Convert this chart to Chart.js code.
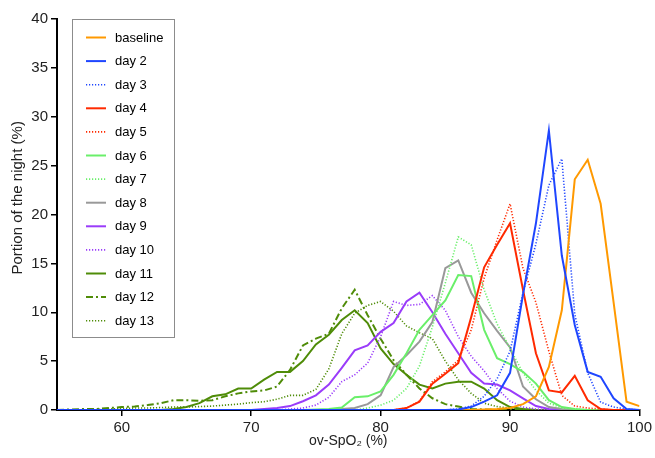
<!DOCTYPE html>
<html>
<head>
<meta charset="utf-8">
<script src="https://cdn.jsdelivr.net/npm/chart.js@4/dist/chart.umd.min.js"></script>
<style>
  html, body { margin: 0; padding: 0; background: #fff; }
  #wrap { width: 655px; height: 458px; }
</style>
</head>
<body>
<div id="wrap"><canvas id="spo2Chart" width="655" height="458"></canvas></div>
<script>
// ov-SpO2 bins (%)
const spo2Bins = [55,56,57,58,59,60,61,62,63,64,65,66,67,68,69,70,71,72,73,74,75,76,77,78,79,80,81,82,83,84,85,86,87,88,89,90,91,92,93,94,95,96,97,98,99,100];
const xTicks = [60, 70, 80, 90, 100];

// portion of the night (%) per bin, 55 -> 100
const baseline = [0,0,0,0,0,0,0,0,0,0, 0,0,0,0,0,0,0,0,0,0, 0,0,0,0,0,0,0,0,0,0, 0,0,0,0.05,0.1,0.2,0.6,1.4,4.4,10.2, 23.6,25.6,21.1,11.0,0.85,0.4];
const day2 = [0,0,0,0,0,0,0,0,0,0, 0,0,0,0,0,0,0,0,0,0, 0,0,0,0,0,0,0,0,0,0, 0,0.05,0.3,0.85,1.5,3.8,11.8,19.1,28.6,15.8, 8.7,3.9,3.4,1.2,0.1,0];
const day3 = [0,0,0,0,0,0,0,0,0,0, 0,0,0,0,0,0,0,0,0,0, 0,0,0,0,0,0,0,0,0,0, 0,0.1,0.4,1.4,3.2,6.0,12.0,17.0,23.0,25.7, 9.8,3.8,0.8,0.3,0.1,0];
const day4 = [0,0,0,0,0,0,0,0,0,0, 0,0,0,0,0,0,0,0,0,0, 0,0,0,0,0,0,0,0.2,0.85,2.7, 3.7,4.8,9.5,14.6,16.9,19.1,12.3,5.8,2.0,1.8, 3.5,1.0,0.1,0,0,0];
const day5 = [0,0,0,0,0,0,0,0,0,0, 0,0,0,0,0,0,0,0,0,0, 0,0,0,0,0,0,0,0.2,0.9,2.9, 3.9,5.1,8.2,13.5,17.4,21.1,14.5,11.0,6.0,1.5, 0.4,0.2,0.1,0,0,0];
const day6 = [0,0,0,0,0,0,0,0,0,0, 0,0,0,0,0,0,0,0,0,0, 0.05,0.1,0.25,1.3,1.4,1.9,3.6,5.8,8.2,9.7, 11.2,13.8,13.7,8.2,5.3,4.7,3.9,2.7,1.0,0.3, 0.1,0,0,0,0,0];
const day7 = [0,0,0,0,0,0,0,0,0,0, 0,0,0,0,0,0,0,0,0,0, 0,0,0,0,0.2,0.5,1.0,2.2,4.5,8.5, 13.0,17.7,16.9,12.3,8.8,6.3,3.8,2.0,0.7,0.2, 0.1,0,0,0,0,0];
const day8 = [0,0,0,0,0,0,0,0,0,0, 0,0,0,0,0,0,0,0,0,0, 0,0,0.1,0.2,0.6,1.5,4.4,5.6,7.0,9.0, 14.5,15.3,12.0,9.9,8.1,6.4,2.4,1.1,0.3,0.1, 0,0,0,0,0,0];
const day9 = [0,0,0,0,0,0,0,0,0,0, 0,0,0,0,0,0,0.1,0.2,0.4,0.9, 1.5,2.6,4.3,6.1,6.6,8.0,8.9,11.1,12.0,10.0, 7.8,5.8,3.8,2.7,2.6,2.0,1.2,0.4,0.1,0, 0,0,0,0,0,0];
const day10 = [0,0,0,0,0,0,0,0,0,0, 0,0,0,0,0,0,0,0,0.1,0.2, 0.5,1.3,2.9,3.6,4.8,7.5,11.1,10.7,10.8,11.7, 10.2,7.5,5.5,4.0,2.2,0.9,0.3,0.1,0,0, 0,0,0,0,0,0];
const day11 = [0,0,0,0,0,0,0,0,0,0.1, 0.3,0.7,1.4,1.6,2.2,2.2,3.1,3.9,3.9,5.0, 6.7,7.7,9.2,10.2,8.9,6.3,4.7,3.6,2.6,2.2, 2.7,2.9,2.9,2.2,1.0,0.3,0.1,0,0,0, 0,0,0,0,0,0];
const day12 = [0,0.05,0.1,0.1,0.2,0.3,0.35,0.5,0.7,1.0, 1.0,0.95,1.0,1.4,1.7,1.9,2.0,2.4,4.1,6.6, 7.3,7.8,10.4,12.3,9.7,7.3,5.1,3.6,2.2,1.2, 0.6,0.35,0.1,0.05,0,0,0,0,0,0, 0,0,0,0,0,0];
const day13 = [0,0,0,0.05,0.1,0.15,0.2,0.2,0.25,0.3, 0.3,0.35,0.4,0.5,0.6,0.75,0.85,1.1,1.5,1.5, 2.1,4.2,7.8,9.9,10.7,11.1,10.1,8.6,7.9,7.3, 5.0,3.1,1.7,0.7,0.35,0.2,0.1,0,0,0, 0,0,0,0,0,0];

const seriesNames = ['baseline', 'day 2', 'day 3', 'day 4', 'day 5', 'day 6', 'day 7', 'day 8', 'day 9', 'day 10', 'day 11', 'day 12', 'day 13'];
const seriesValues = [baseline, day2, day3, day4, day5, day6, day7, day8, day9, day10, day11, day12, day13];

// Cores e estilos de linha
const ORANGE = '#ff9900', BLUE = '#1f46ff', RED = '#ff2a00', LGREEN = '#6aef6a',
      GRAY = '#999999', PURPLE = '#9a3cfa', OLIVE = '#4f8c08';
const SOLID = [], DOTTED = [1.2, 1.8], DASHDOT = [7, 3, 2, 3];
const seriesStyles = [
    { color: ORANGE, dash: SOLID },
    { color: BLUE, dash: SOLID },
    { color: BLUE, dash: DOTTED },
    { color: RED, dash: SOLID },
    { color: RED, dash: DOTTED },
    { color: LGREEN, dash: SOLID },
    { color: LGREEN, dash: DOTTED },
    { color: GRAY, dash: SOLID },
    { color: PURPLE, dash: SOLID },
    { color: PURPLE, dash: DOTTED },
    { color: OLIVE, dash: SOLID },
    { color: OLIVE, dash: DASHDOT },
    { color: OLIVE, dash: DOTTED }
];

const FONT = "'Liberation Sans', Arial, Helvetica, sans-serif";

const datasets = seriesNames.map((name, i) => {
    const st = seriesStyles[i];
    return {
        label: name,
        data: spo2Bins.map((x, j) => ({ x: x, y: seriesValues[i][j] })),
        borderColor: st.color,
        backgroundColor: st.color,
        borderDash: st.dash,
        borderWidth: st.dash === DOTTED ? 1.6 : 2,
        pointRadius: 0,
        tension: 0,
        fill: false,
        order: name === 'day 2' ? -1 : 0
    };
});

const boxLegend = {
    id: 'boxLegend',
    beforeDatasetsDraw(chart) {
        const ctx = chart.ctx;
        const area = chart.chartArea;
        const left = area.left + 15.5, top = area.top + 0.5;
        const rowH = 23.6;
        const items = chart.data.datasets;
        ctx.save();
        ctx.strokeStyle = '#8c8c8c';
        ctx.lineWidth = 1;
        ctx.strokeRect(left, top, 102, 318);
        ctx.font = '13px ' + FONT;
        ctx.textBaseline = 'middle';
        ctx.fillStyle = '#000';
        items.forEach((ds, i) => {
            const y = top + 18 + i * rowH;
            ctx.save();
            ctx.strokeStyle = ds.borderColor;
            ctx.lineWidth = ds.borderWidth;
            ctx.setLineDash(ds.borderDash);
            ctx.beginPath();
            ctx.moveTo(left + 13.5, y);
            ctx.lineTo(left + 33.5, y);
            ctx.stroke();
            ctx.restore();
            ctx.fillText(ds.label, left + 42.5, y + 0.5);
        });
        ctx.restore();
    }
};

const ctx = document.getElementById('spo2Chart').getContext('2d');
new Chart(ctx, {
    type: 'line',
    data: { datasets: datasets },
    options: {
        responsive: false,
        animation: false,
        layout: { padding: { top: 19, right: 13, left: 0, bottom: 0 } },
        plugins: {
            tooltip: { enabled: false },
            legend: { display: false }
        },
        scales: {
            x: {
                type: 'linear',
                min: 55,
                max: 100,
                afterBuildTicks: (scale) => { scale.ticks = xTicks.map(v => ({ value: v })); },
                afterFit: (scale) => { scale.height = 48; },
                grid: { drawOnChartArea: false, tickLength: 6, color: '#000', lineWidth: 1.5 },
                border: { color: '#000', width: 2 },
                ticks: { color: '#222', padding: 3, maxRotation: 0, font: { family: FONT, size: 15 } },
                title: { display: true, text: 'ov-SpO\u2082 (%)', color: '#222', padding: { top: 0, bottom: 8 }, font: { family: FONT, size: 14 } }
            },
            y: {
                min: 0,
                max: 40,
                ticks: { stepSize: 5, color: '#222', padding: 3, font: { family: FONT, size: 15 } },
                afterFit: (scale) => { scale.width = 57; },
                grid: { drawOnChartArea: false, tickLength: 6, color: '#000', lineWidth: 1.5 },
                border: { color: '#000', width: 2 },
                title: { display: true, text: '        Portion of the night (%)', color: '#222', padding: { top: 9, bottom: 0 }, font: { family: FONT, size: 15 } }
            }
        }
    },
    plugins: [boxLegend]
});
</script>
</body>
</html>
